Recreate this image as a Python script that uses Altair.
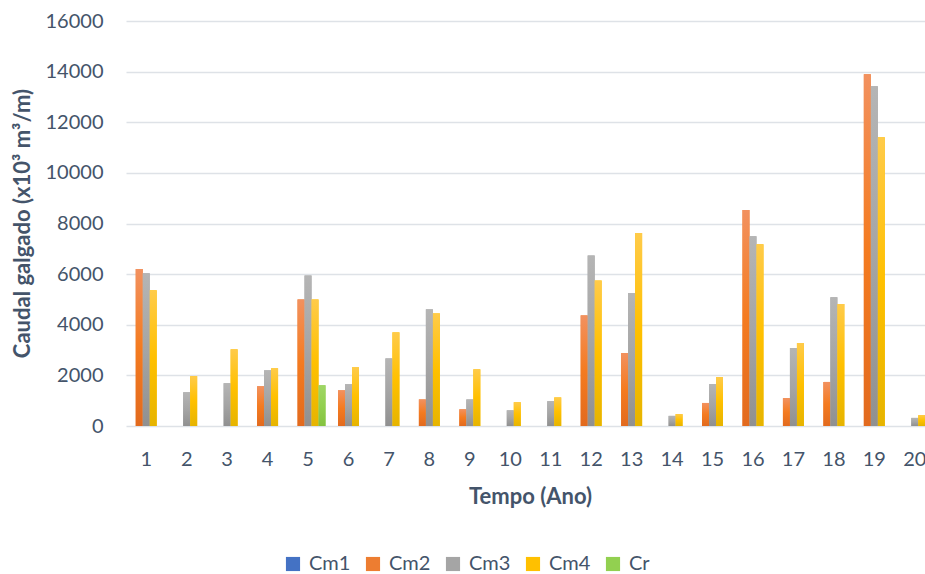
import altair as alt
import pandas as pd

# Categories (years) and series
anos = ["1", "2", "3", "4", "5", "6", "7", "8", "9", "10",
        "11", "12", "13", "14", "15", "16", "17", "18", "19", "20"]
series = ["Cm1", "Cm2", "Cm3", "Cm4", "Cr"]

# Overtopping discharge per year (x10^3 m3/m)
cm1 = [0, 0, 0, 0, 0, 0, 0, 0, 0, 0, 0, 0, 0, 0, 0, 0, 0, 0, 0, 0]
cm2 = [6200, 0, 0, 1570, 5000, 1410, 0, 1050, 660, 0,
       0, 4370, 2880, 0, 910, 8530, 1100, 1740, 13900, 0]
cm3 = [6030, 1330, 1690, 2200, 5950, 1650, 2670, 4610, 1050, 620,
       980, 6740, 5250, 400, 1660, 7500, 3080, 5090, 13420, 320]
cm4 = [5360, 1970, 3030, 2280, 5000, 2320, 3700, 4450, 2240, 940,
       1130, 5750, 7620, 470, 1930, 7180, 3280, 4820, 11410, 430]
cr = [0, 0, 0, 0, 1610, 0, 0, 0, 0, 0,
      0, 0, 0, 0, 0, 0, 0, 0, 0, 0]

base_colors = ["#4472C4", "#ED7D31", "#A5A5A5", "#FFC000", "#92D050"]
gradients = {
    "Cm1": ["#6E95DA", "#4472C4", "#3A64B0"],
    "Cm2": ["#F2915F", "#F47B20", "#E26A1E"],
    "Cm3": ["#B5B5B5", "#A5A5A5", "#909090"],
    "Cm4": ["#FFCB4A", "#FFC000", "#E6B400"],
    "Cr": ["#9FD666", "#92D050", "#84C240"],
}

rows = []
for name, vals in zip(series, [cm1, cm2, cm3, cm4, cr]):
    for ano, v in zip(anos, vals):
        rows.append({"ano": ano, "serie": name, "caudal": v})
df = pd.DataFrame(rows)

FONT = "Lato"
TEXT = "#44546A"

x_enc = alt.X(
    "ano:N",
    sort=anos,
    scale=alt.Scale(range=[0, 809], paddingInner=0.135, paddingOuter=0.0675),
    axis=alt.Axis(
        title="Tempo (Ano)",
        labelAngle=0,
        labelFontSize=20,
        labelColor=TEXT,
        labelFont=FONT,
        labelPadding=23,
        ticks=False,
        domain=False,
        titleFont=FONT,
        titleFontSize=22,
        titleFontWeight="bold",
        titleColor=TEXT,
        titleX=404,
        titleY=70,
        titleBaseline="middle",
    ),
)
xoff_enc = alt.XOffset("serie:N", sort=series,
                       scale=alt.Scale(domain=series, paddingInner=0, paddingOuter=0))
y_enc = alt.Y(
    "caudal:Q",
    scale=alt.Scale(domain=[0, 16000], nice=False),
    axis=alt.Axis(
        title="Caudal galgado (x10³ m³/m)",
        values=[0, 2000, 4000, 6000, 8000, 10000, 12000, 14000, 16000],
        format="d",
        labelFontSize=20,
        labelColor=TEXT,
        labelFont=FONT,
        labelPadding=23,
        ticks=False,
        domain=False,
        grid=True,
        gridColor="#DEE2E7",
        gridWidth=1.4,
        titleFont=FONT,
        titleFontSize=22,
        titleFontWeight="bold",
        titleColor=TEXT,
        titleX=-104,
        titleY=202,
        titleAngle=270,
        titleBaseline="middle",
    ),
)

# Solid bars carry the colour scale and the legend
solid = alt.Chart(df).mark_bar().encode(
    x=x_enc,
    xOffset=xoff_enc,
    y=y_enc,
    color=alt.Color(
        "serie:N",
        sort=series,
        scale=alt.Scale(domain=series, range=base_colors),
        legend=alt.Legend(
            title=None,
            orient="none",
            direction="horizontal",
            columns=5,
            legendX=157,
            legendY=533,
            symbolType="square",
            symbolSize=200,
            symbolStrokeWidth=0,
            labelFontSize=20,
            labelFont=FONT,
            labelColor=TEXT,
            labelOffset=6,
            columnPadding=12,
        ),
    ),
)

# Gradient-shaded bars drawn over each series
layers = [solid]
for name in series:
    stops = gradients[name]
    grad = alt.Gradient(
        gradient="linear",
        x1=0, x2=0, y1=0, y2=1,
        stops=[
            alt.GradientStop(offset=0, color=stops[0]),
            alt.GradientStop(offset=0.5, color=stops[1]),
            alt.GradientStop(offset=1, color=stops[2]),
        ],
    )
    layer = alt.Chart(df).transform_filter(
        alt.datum.serie == name
    ).mark_bar(color=grad).encode(
        x=alt.X("ano:N", sort=anos),
        xOffset=alt.XOffset("serie:N", sort=series),
        y=alt.Y("caudal:Q"),
    )
    layers.append(layer)

chart = alt.layer(*layers).properties(
    width=799,
    height=405,
    autosize=alt.AutoSizeParams(type="none"),
    padding={"left": 126, "top": 21, "right": 0, "bottom": 148},
    background="white",
).configure_view(stroke=None)

chart.save("out.html", embed_options={"renderer": "svg", "actions": False})
